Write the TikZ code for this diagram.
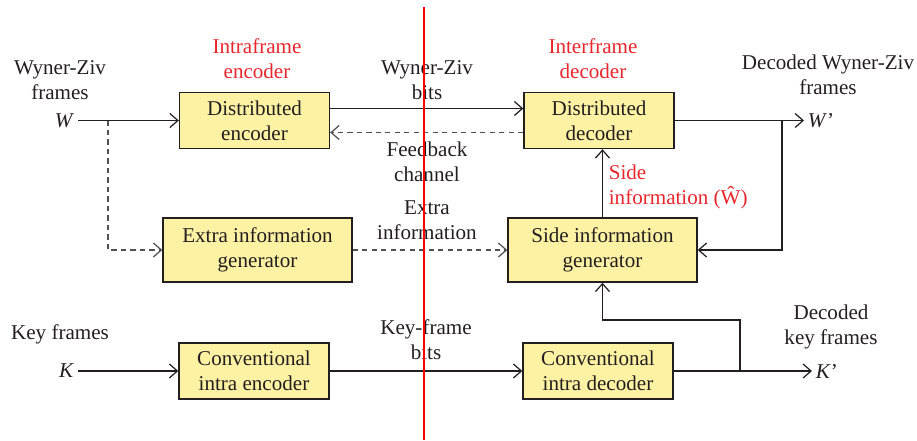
\documentclass[tikz,border=0pt]{standalone}
\usepackage{fontspec}
\setmainfont{Liberation Serif}
\usepackage{xcolor}
\usepackage{tikz}
\usetikzlibrary{arrows.meta,positioning}

\definecolor{boxfill}{RGB}{253,242,163}
\definecolor{ink}{RGB}{35,31,32}
\definecolor{dashink}{RGB}{80,80,80}
\definecolor{labelred}{RGB}{232,38,44}

\begin{document}
\begin{tikzpicture}[
                x=0.02cm, y=-0.02cm,
                font=\fontsize{12}{14.2}\selectfont,
                block/.style={
                    draw=ink,
                    line width=0.8pt,
                    fill=boxfill,
                    text=ink,
                    align=center,
                    inner sep=0pt,
                    minimum width=3cm,
                    minimum height=1.12cm
                    },
                wideblock/.style={
                    block,
                    minimum width=3.78cm,
                    minimum height=1.28cm
                    },
                lbl/.style={text=ink, align=center, inner sep=2pt},
                redlbl/.style={text=labelred, align=center, inner sep=2pt},
                conn/.style={
                    draw=ink,
                    line width=0.7pt,
                    -{Straight Barb[length=1.6mm,width=2.8mm]}
                    },
                dashconn/.style={
                    conn,
                    draw=dashink,
                    dash pattern=on 3pt off 2.4pt
                    }
                ]

                \useasboundingbox (0,0) rectangle (917,440);

                % blocks
                \node[block] (enc) at (254.5,120.5) {Distributed\\encoder};
                \node[block] (dec) at (599,120.5) {Distributed\\decoder};
                \node[wideblock] (extra) at (257.5,250) {Extra information\\generator};
                \node[wideblock] (side) at (602.5,250) {Side information\\generator};
                \node[block] (kenc) at (254,371) {Conventional\\intra encoder};
                \node[block] (kdec) at (598,371) {Conventional\\intra decoder};

                % inputs and outputs
                \node[lbl, anchor=east] (W) at (78,120.5) {\textit{W}};
                \node[lbl, anchor=east] (K) at (78,371) {\textit{K}};
                \node[lbl, anchor=west] (Wout) at (804,120.5) {\textit{W}’};
                \node[lbl, anchor=west] (Kout) at (812,371) {\textit{K}’};

                % texts
                \node[lbl] (wzframes) at (60,80) {Wyner-Ziv\\frames};
                \node[lbl] (keyframes) at (60,334) {Key frames};
                \node[redlbl] (intra) at (257,59) {Intraframe\\encoder};
                \node[redlbl] (inter) at (593,59) {Interframe\\decoder};
                \node[lbl] (wzbits) at (427,80) {Wyner-Ziv\\bits};
                \node[lbl] (feedback) at (427,162) {Feedback\\channel};
                \node[lbl] (extrainfo) at (427,220) {Extra\\information};
                \node[lbl] (kbits) at (426,340) {Key-frame\\bits};
                \node[lbl] (decwz) at (828,75) {Decoded Wyner-Ziv\\frames};
                \node[lbl] (deckey) at (831,327) {Decoded\\key frames};
                \node[redlbl, align=left, anchor=west] (sideinfo) at (605,187) {Side\\information (Ŵ)};

                % split points
                \coordinate (wsplit) at (108,120.5);
                \coordinate (wtap) at (782,120.5);
                \coordinate (ktap) at (740,371);
                \coordinate (kup) at (740,320);

                % Wyner-Ziv path
                \draw[conn] (W) -- (enc);
                \draw[conn] ([yshift=0.24cm]enc.east) -- ([yshift=0.24cm]dec.west);
                \draw[dashconn] ([yshift=-0.24cm]dec.west) -- ([yshift=-0.24cm]enc.east);
                \draw[dashconn] (wsplit) |- (extra.west);
                \draw[dashconn] (extra.east) -- (side.west);
                \draw[conn] (side.north) -- (side.north |- dec.south);
                \draw[conn] (dec.east) -- (Wout);
                \draw[conn] (wtap) |- (side.east);

                % key frame path
                \draw[conn] (K) -- (kenc);
                \draw[conn] (kenc) -- (kdec);
                \draw[conn] (kdec.east) -- (Kout);
                \draw[conn] (ktap) -- (kup) -| (side.south);

                % encoder / decoder divide
                \draw[red, line width=0.7pt] (424,7) -- (424,440);

             \end{tikzpicture}
\end{document}
